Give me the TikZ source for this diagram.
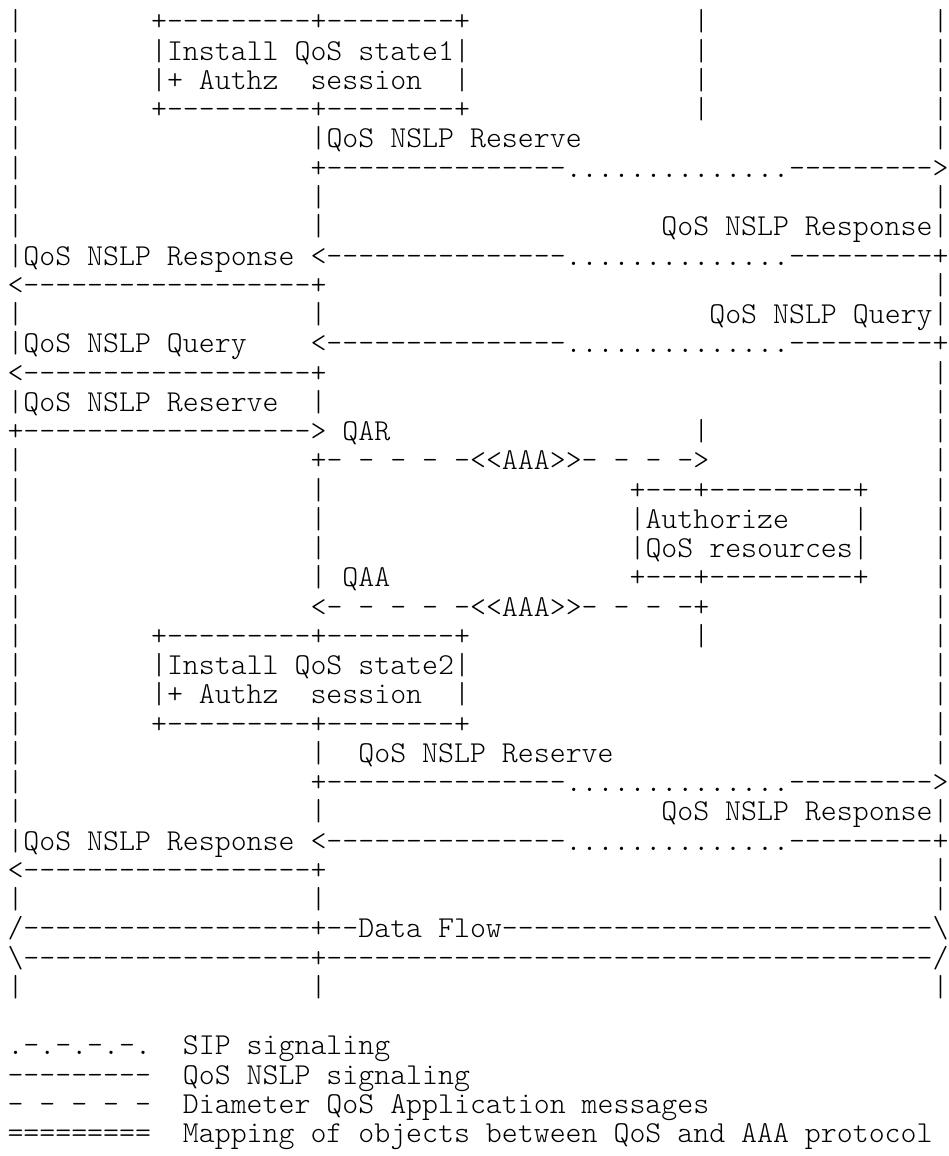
\documentclass[tikz,border=0pt]{standalone}
\usepackage{fontspec}
\setmonofont{lmmonolt10-regular.otf}
\newcommand\gap[1]{\hspace*{#1\fontcharwd\font`x}}
\newcommand\asciirow[3]{\node[ascii] (#1) at (7.5,{31+29.25*(#2-1)}) {#3};}
\begin{document}
{\ttfamily\fontsize{10pt}{12pt}\selectfont\xdef\basecw{\the\fontcharwd\font`x}}%
\pgfmathsetmacro\asciisize{10*7.975/\basecw}%
\begin{tikzpicture}[x=0.5pt,y=-0.5pt]
\tikzset{ascii/.style={anchor=base west, inner sep=0pt, outer sep=0pt, text=black,
  font=\ttfamily\fontsize{\asciisize pt}{16pt}\selectfont}}
\fill[white] (0,0) rectangle (948,1156);
\useasboundingbox (0,0) rectangle (948,1156);
\asciirow{r1}{1}{|\gap{8}+---------+--------+\gap{14}|\gap{14}|}
\asciirow{r2}{2}{|\gap{8}|Install\gap{1}QoS\gap{1}state1|\gap{14}|\gap{14}|}
\asciirow{r3}{3}{|\gap{8}|+\gap{1}Authz\gap{2}session\gap{2}|\gap{14}|\gap{14}|}
\asciirow{r4}{4}{|\gap{8}+---------+--------+\gap{14}|\gap{14}|}
\asciirow{r5}{5}{|\gap{18}|QoS\gap{1}NSLP\gap{1}Reserve\gap{22}|}
\asciirow{r6}{6}{|\gap{18}+---------------..............--------->}
\asciirow{r7}{7}{|\gap{18}|\gap{38}|}
\asciirow{r8}{8}{|\gap{18}|\gap{21}QoS\gap{1}NSLP\gap{1}Response|}
\asciirow{r9}{9}{|QoS\gap{1}NSLP\gap{1}Response\gap{1}<---------------..............---------+}
\asciirow{r10}{10}{<------------------+\gap{38}|}
\asciirow{r11}{11}{|\gap{18}|\gap{24}QoS\gap{1}NSLP\gap{1}Query|}
\asciirow{r12}{12}{|QoS\gap{1}NSLP\gap{1}Query\gap{4}<---------------..............---------+}
\asciirow{r13}{13}{<------------------+\gap{38}|}
\asciirow{r14}{14}{|QoS\gap{1}NSLP\gap{1}Reserve\gap{2}|\gap{38}|}
\asciirow{r15}{15}{+------------------>\gap{1}QAR\gap{19}|\gap{14}|}
\asciirow{r16}{16}{|\gap{18}+-\gap{1}-\gap{1}-\gap{1}-\gap{1}-<<AAA>>-\gap{1}-\gap{1}-\gap{1}->\gap{14}|}
\asciirow{r17}{17}{|\gap{18}|\gap{19}+---+---------+\gap{4}|}
\asciirow{r18}{18}{|\gap{18}|\gap{19}|Authorize\gap{4}|\gap{4}|}
\asciirow{r19}{19}{|\gap{18}|\gap{19}|QoS\gap{1}resources|\gap{4}|}
\asciirow{r20}{20}{|\gap{18}|\gap{1}QAA\gap{15}+---+---------+\gap{4}|}
\asciirow{r21}{21}{|\gap{18}<-\gap{1}-\gap{1}-\gap{1}-\gap{1}-<<AAA>>-\gap{1}-\gap{1}-\gap{1}-+\gap{14}|}
\asciirow{r22}{22}{|\gap{8}+---------+--------+\gap{14}|\gap{14}|}
\asciirow{r23}{23}{|\gap{8}|Install\gap{1}QoS\gap{1}state2|\gap{29}|}
\asciirow{r24}{24}{|\gap{8}|+\gap{1}Authz\gap{2}session\gap{2}|\gap{29}|}
\asciirow{r25}{25}{|\gap{8}+---------+--------+\gap{29}|}
\asciirow{r26}{26}{|\gap{18}|\gap{2}QoS\gap{1}NSLP\gap{1}Reserve\gap{20}|}
\asciirow{r27}{27}{|\gap{18}+---------------..............--------->}
\asciirow{r28}{28}{|\gap{18}|\gap{21}QoS\gap{1}NSLP\gap{1}Response|}
\asciirow{r29}{29}{|QoS\gap{1}NSLP\gap{1}Response\gap{1}<---------------..............---------+}
\asciirow{r30}{30}{<------------------+\gap{38}|}
\asciirow{r31}{31}{|\gap{18}|\gap{38}|}
\asciirow{r32}{32}{/------------------+--Data\gap{1}Flow---------------------------\textbackslash}
\asciirow{r33}{33}{\textbackslash------------------+--------------------------------------/}
\asciirow{r34}{34}{|\gap{18}|\gap{38}|}
\asciirow{r36}{36}{.-.-.-.-.\gap{2}SIP\gap{1}signaling}
\asciirow{r37}{37}{---------\gap{2}QoS\gap{1}NSLP\gap{1}signaling}
\asciirow{r38}{38}{-\gap{1}-\gap{1}-\gap{1}-\gap{1}-\gap{2}Diameter\gap{1}QoS\gap{1}Application\gap{1}messages}
\asciirow{r39}{39}{=========\gap{2}Mapping\gap{1}of\gap{1}objects\gap{1}between\gap{1}QoS\gap{1}and\gap{1}AAA\gap{1}protocol}
\end{tikzpicture}
\end{document}
